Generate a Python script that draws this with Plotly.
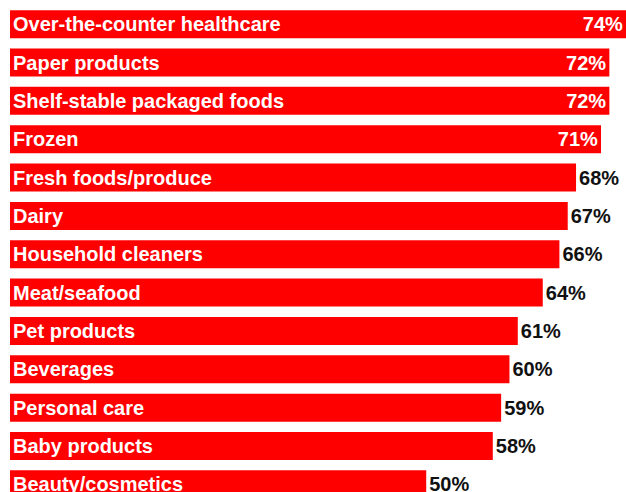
import plotly.graph_objects as go

categories = ["Over-the-counter healthcare", "Paper products", "Shelf-stable packaged foods",
              "Frozen", "Fresh foods/produce", "Dairy", "Household cleaners", "Meat/seafood",
              "Pet products", "Beverages", "Personal care", "Baby products", "Beauty/cosmetics"]
values = [74, 72, 72, 71, 68, 67, 66, 64, 61, 60, 59, 58, 50]
value_labels = [f"{v}%" for v in values]
positions = ["inside"] * 4 + ["outside"] * 9

FONT = "Liberation Sans"
SIZE = 20

fig = go.Figure()
fig.add_trace(go.Bar(
    y=categories, x=values, orientation="h",
    marker=dict(color="#ff0000", line=dict(width=0)),
    text=value_labels, textposition=positions,
    insidetextanchor="end",
    insidetextfont=dict(color="white", size=SIZE, family=FONT, weight="bold"),
    outsidetextfont=dict(color="#111111", size=SIZE, family=FONT, weight="bold"),
    textangle=0, cliponaxis=False, hoverinfo="skip",
))
fig.add_trace(go.Bar(
    y=categories, x=values, orientation="h",
    marker=dict(color="rgba(0,0,0,0)", line=dict(width=0)),
    text=categories, textposition="inside", insidetextanchor="start",
    insidetextfont=dict(color="white", size=SIZE, family=FONT, weight="bold"),
    textangle=0, cliponaxis=False, hoverinfo="skip",
))

fig.update_layout(
    width=626, height=492,
    margin=dict(l=10, r=0, t=5, b=0),
    plot_bgcolor="white", paper_bgcolor="white",
    barmode="overlay", bargap=0.27, showlegend=False,
    uniformtext=dict(mode=False),
)
fig.update_xaxes(range=[0, 74.0], visible=False)
fig.update_yaxes(
    autorange=False, range=[12.2, -0.5], categoryorder="array", categoryarray=categories,
    visible=False,
)

fig.write_html("out.html")
